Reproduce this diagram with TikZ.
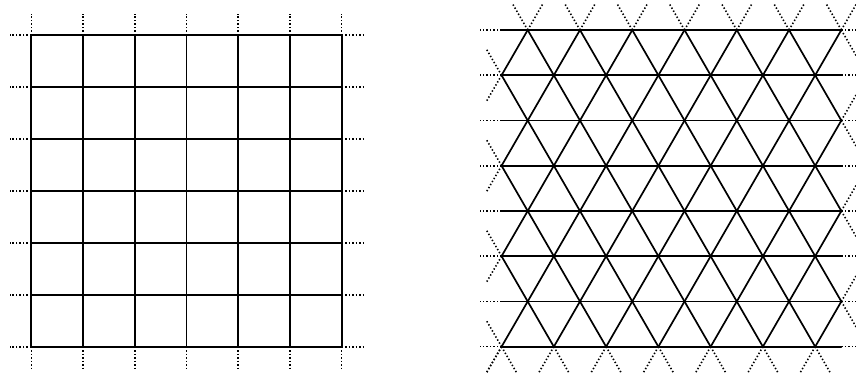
\documentclass[tikz,border=0pt]{standalone}
\begin{document}
\begin{tikzpicture}[x=1pt,y=-1pt,
  solidline/.style={line width=1.7pt, line cap=round},
  dotline/.style={line width=1.6pt, dash pattern=on 1.4pt off 2.1pt}]
\useasboundingbox (0,0) rectangle (856,376);
\clip (0,0) rectangle (856,376);
% ---------- square grid ----------
\foreach \i in {0,...,6} {
  \pgfmathsetmacro\xx{31.3+\i*51.73}
  \pgfmathsetmacro\yy{35+\i*51.95}
  \draw[solidline] (\xx,35) -- (\xx,346.7);
  \draw[solidline] (31.3,\yy) -- (341.7,\yy);
  \draw[dotline] (\xx,35) -- (\xx,13.5);
  \draw[dotline] (\xx,346.7) -- (\xx,368.2);
  \draw[dotline] (31.3,\yy) -- (9.5,\yy);
  \draw[dotline] (341.7,\yy) -- (363.2,\yy);
}
% ---------- triangular grid ----------
\def\s{52.27}
\def\h{45.24}
\def\xe{527.7}
\def\xo{501.56}
\def\ex{15.1}
\def\ey{26.1}
% horizontal lines
\foreach \r in {0,...,7} {
  \pgfmathsetmacro\yy{30+\r*\h}
  \draw[solidline] (\xo,\yy) -- (841.3,\yy);
  \draw[dotline] (\xo,\yy) -- (480,\yy);
  \draw[dotline] (841.3,\yy) -- (863,\yy);
}
% slanted segments from even rows
\foreach \r in {0,2,4,6} {
  \pgfmathsetmacro\ya{30+\r*\h}
  \pgfmathsetmacro\yb{30+(\r+1)*\h}
  \foreach \k in {0,...,6} {
    \draw[solidline] ({\xe+\k*\s},\ya) -- ({\xo+\k*\s},\yb);
  }
  \foreach \k in {0,...,5} {
    \draw[solidline] ({\xe+\k*\s},\ya) -- ({\xo+(\k+1)*\s},\yb);
  }
}
% slanted segments from odd rows
\foreach \r in {1,3,5} {
  \pgfmathsetmacro\ya{30+\r*\h}
  \pgfmathsetmacro\yb{30+(\r+1)*\h}
  \foreach \k in {0,...,6} {
    \draw[solidline] ({\xo+\k*\s},\ya) -- ({\xe+\k*\s},\yb);
  }
  \foreach \k in {1,...,6} {
    \draw[solidline] ({\xo+\k*\s},\ya) -- ({\xe+(\k-1)*\s},\yb);
  }
}
% dotted extensions: top row
\foreach \k in {0,...,6} {
  \pgfmathsetmacro\xx{\xe+\k*\s}
  \draw[dotline] (\xx,30) -- ++(-\ex,-\ey);
  \draw[dotline] (\xx,30) -- ++(\ex,-\ey);
}
\pgfmathsetmacro\xr{\xe+6*\s}
\draw[dotline] (\xr,30) -- ++(\ex,\ey);
% right side, even rows
\foreach \r in {2,4,6} {
  \pgfmathsetmacro\yy{30+\r*\h}
  \draw[dotline] (\xr,\yy) -- ++(\ex,-\ey);
  \draw[dotline] (\xr,\yy) -- ++(\ex,\ey);
}
% left side, odd rows
\foreach \r in {1,3,5,7} {
  \pgfmathsetmacro\yy{30+\r*\h}
  \draw[dotline] (\xo,\yy) -- ++(-\ex,-\ey);
  \draw[dotline] (\xo,\yy) -- ++(-\ex,\ey);
}
% bottom row
\pgfmathsetmacro\yb{30+7*\h}
\foreach \k in {0,...,6} {
  \pgfmathsetmacro\xx{\xo+\k*\s}
  \draw[dotline] (\xx,\yb) -- ++(-\ex,\ey);
  \draw[dotline] (\xx,\yb) -- ++(\ex,\ey);
}
\end{tikzpicture}
\end{document}
